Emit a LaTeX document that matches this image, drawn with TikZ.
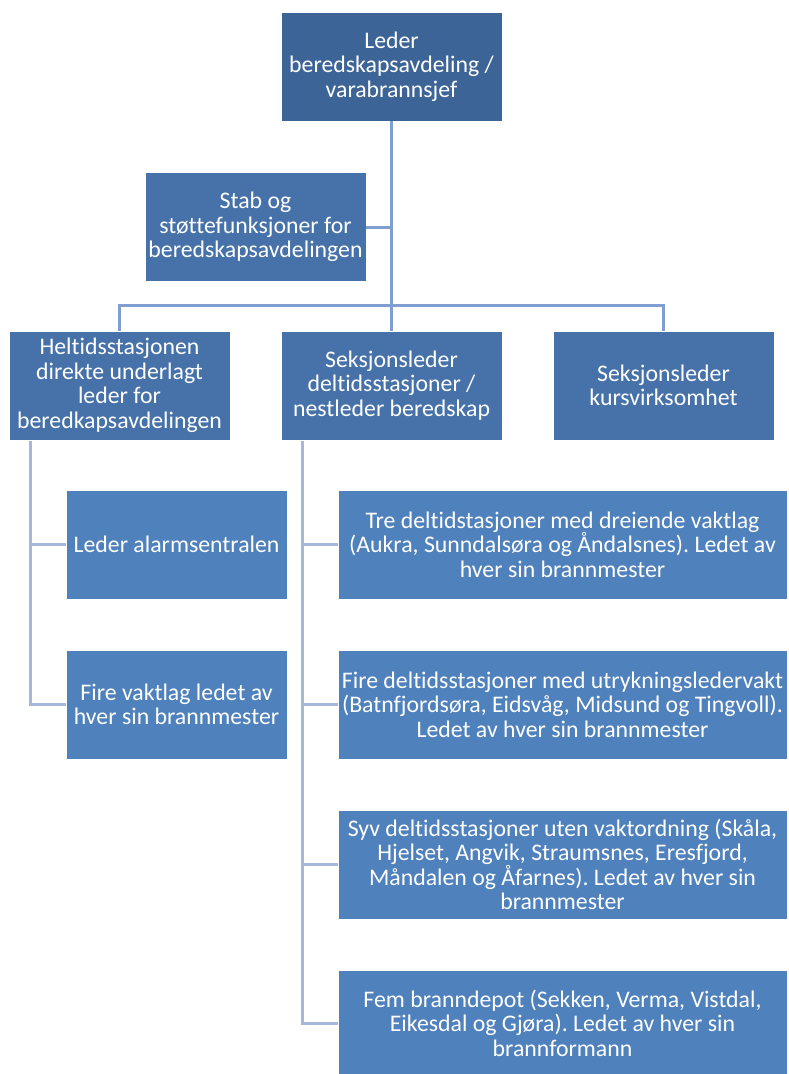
\documentclass[tikz,border=0pt]{standalone}
\usepackage{fontspec}
\setmainfont{Carlito}[RawFeature={-liga}]
\frenchspacing
\definecolor{cTop}{HTML}{3D6497}
\definecolor{cMid}{HTML}{4672A9}
\definecolor{cLow}{HTML}{4F81BD}
\definecolor{lnTop}{HTML}{7F9FD1}
\definecolor{lnLow}{HTML}{A5B8DA}
\tikzset{
  orgbox/.style={rectangle, draw=white, line width=0.6pt, text=white, align=center,
    minimum width=221pt, minimum height=109pt, inner sep=1pt,
    font=\fontsize{23.8}{24.5}\selectfont},
  topbox/.style={orgbox, fill=cTop},
  midbox/.style={orgbox, fill=cMid},
  lowbox/.style={orgbox, fill=cLow},
  widebox/.style={lowbox, minimum width=449pt},
  linkA/.style={draw=lnTop, line width=3pt},
  linkB/.style={draw=lnLow, line width=3pt},
}
\begin{document}
\begin{tikzpicture}[x=1pt,y=-1pt]
\useasboundingbox (0,0) rectangle (789,1074);
\node[topbox] (top) at (391.5,66.5) {Leder\\beredskapsavdeling /\\varabrannsjef};
\node[midbox] (stab) at (255.5,227) {Stab og\\støttefunksjoner for\\beredskapsavdelingen};
\node[midbox] (helt) at (119.5,385.5) {Heltidsstasjonen\\direkte underlagt\\leder for\\beredkapsavdelingen};
\node[midbox] (seks) at (391.5,385.5) {Seksjonsleder\\deltidsstasjoner /\\nestleder beredskap};
\node[midbox] (kurs) at (663.5,385.5) {Seksjonsleder\\kursvirksomhet};
\node[lowbox] (alarm) at (176.5,544.5) {Leder alarmsentralen};
\node[lowbox] (vakt) at (176.5,704.5) {Fire vaktlag ledet av\\hver sin brannmester};
\node[widebox] (tre) at (562.5,544.5) {Tre deltidstasjoner med dreiende vaktlag\\(Aukra, Sunndalsøra og Åndalsnes). Ledet av\\hver sin brannmester};
\node[widebox] (fire) at (562.5,704.5) {Fire deltidsstasjoner med utrykningsledervakt\\(Batnfjordsøra, Eidsvåg, Midsund og Tingvoll).\\Ledet av hver sin brannmester};
\node[widebox] (syv) at (562.5,864.5) {Syv deltidsstasjoner uten vaktordning (Skåla,\\Hjelset, Angvik, Straumsnes, Eresfjord,\\Måndalen og Åfarnes). Ledet av hver sin\\brannmester};
\node[widebox, minimum height=106pt] (fem) at (562.5,1023) {Fem branndepot (Sekken, Verma, Vistdal,\\Eikesdal og Gjøra). Ledet av hver sin\\brannformann};
% top-level connectors
\draw[linkA] (top.south) -- (seks.north);
\draw[linkA] (stab.east) -- (stab.east -| top.south);
\draw[linkA] (helt.north) -- ++(0,-25) -| (kurs.north);
% left branch
\coordinate (lv) at (30,441);
\draw[linkB] (lv) |- (vakt.west);
\draw[linkB] (lv |- alarm.west) -- (alarm.west);
% right branch
\coordinate (rv) at (302,441);
\draw[linkB] (rv) |- (fem.west);
\draw[linkB] (rv |- tre.west) -- (tre.west);
\draw[linkB] (rv |- fire.west) -- (fire.west);
\draw[linkB] (rv |- syv.west) -- (syv.west);
\end{tikzpicture}
\end{document}
